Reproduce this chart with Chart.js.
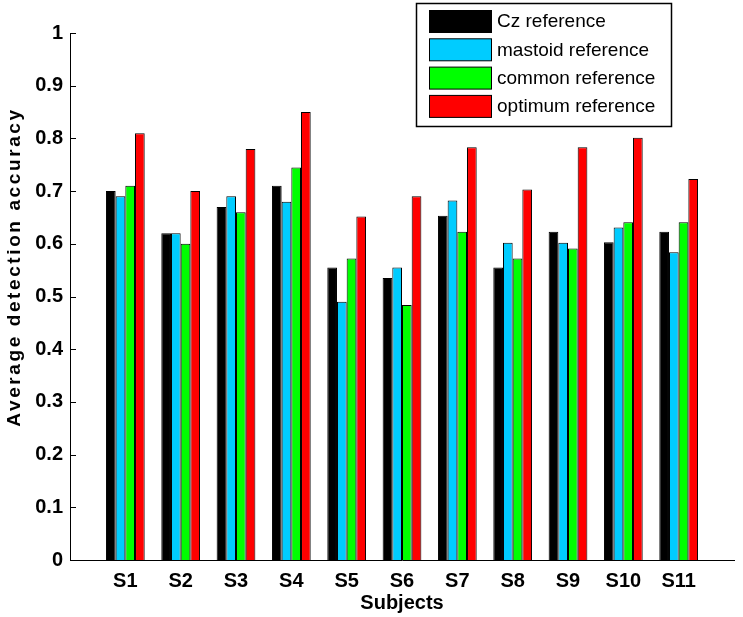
<!DOCTYPE html>
<html>
<head>
<meta charset="utf-8">
<script src="https://cdn.jsdelivr.net/npm/chart.js@4"></script>
<style>
  html, body { margin: 0; padding: 0; background: #fff; }
  #wrap { width: 743px; height: 617px; }
</style>
</head>
<body>
<div id="wrap"><canvas id="grafica"></canvas></div>
<script>
// datos
const subjects = ['S1', 'S2', 'S3', 'S4', 'S5', 'S6', 'S7', 'S8', 'S9', 'S10', 'S11'];
const czRef      = [0.70, 0.62, 0.67, 0.71, 0.555, 0.535, 0.653, 0.555, 0.623, 0.603, 0.623];
const mastoidRef = [0.69, 0.62, 0.69, 0.68, 0.49, 0.555, 0.682, 0.602, 0.602, 0.631, 0.584];
const commonRef  = [0.71, 0.60, 0.66, 0.745, 0.572, 0.484, 0.623, 0.572, 0.591, 0.641, 0.641];
const optimumRef = [0.81, 0.70, 0.78, 0.85, 0.652, 0.69, 0.783, 0.703, 0.783, 0.801, 0.723];
const yTicks = [0, 0.1, 0.2, 0.3, 0.4, 0.5, 0.6, 0.7, 0.8, 0.9, 1];
const yTitle = 'Average detection accuracy';

// MATLAB deja un hueco de una categoria a cada lado
const pad = arr => [null, ...arr, null];
const labels = ['', ...subjects, ''];

const series = [
    { label: 'Cz reference', data: czRef, color: '#000000' },
    { label: 'mastoid reference', data: mastoidRef, color: '#00ccff' },
    { label: 'common reference', data: commonRef, color: '#00ff00' },
    { label: 'optimum reference', data: optimumRef, color: '#ff0000' }
];

// leyenda dentro del area, con recuadro
const boxLegend = {
    id: 'boxLegend',
    afterDraw(chart) {
        const ctx = chart.ctx;
        ctx.save();
        ctx.fillStyle = '#fff';
        ctx.fillRect(416.5, 3.5, 255, 123);
        ctx.strokeStyle = '#000';
        ctx.lineWidth = 1.5;
        ctx.strokeRect(416.5, 3.5, 255, 123);
        ctx.font = '19px "Liberation Sans", Arial, sans-serif';
        ctx.textBaseline = 'middle';
        chart.data.datasets.forEach((ds, i) => {
            const top = 10 + i * 28.3;
            ctx.fillStyle = ds.backgroundColor;
            ctx.fillRect(429.5, top + 0.5, 62, 22);
            ctx.lineWidth = 1;
            ctx.strokeRect(429.5, top + 0.5, 62, 22);
            ctx.fillStyle = '#000';
            ctx.fillText(ds.label, 497, top + 12);
        });
        ctx.restore();
    }
};

// marcas de la escala y hacia dentro + titulo del eje y (mas espaciado, como el original)
const yAxisExtras = {
    id: 'yAxisExtras',
    afterDraw(chart) {
        const ctx = chart.ctx;
        const y = chart.scales.y;
        ctx.save();
        ctx.strokeStyle = '#000';
        ctx.lineWidth = 1;
        yTicks.forEach(v => {
            const py = Math.round(y.getPixelForValue(v)) + 0.5;
            ctx.beginPath();
            ctx.moveTo(y.right, py);
            ctx.lineTo(y.right + 6, py);
            ctx.stroke();
        });
        ctx.translate(15, 267);
        ctx.rotate(-Math.PI / 2);
        ctx.font = 'bold 19px "Liberation Sans", Arial, sans-serif';
        ctx.letterSpacing = '2.6px';
        ctx.textAlign = 'center';
        ctx.textBaseline = 'middle';
        ctx.fillStyle = '#000';
        ctx.fillText(yTitle, 0, 0);
        ctx.restore();
    }
};

const tickFont = { family: '"Liberation Sans", Arial, sans-serif', size: 20, weight: 'bold' };

new Chart(document.getElementById('grafica').getContext('2d'), {
    type: 'bar',
    data: {
        labels: labels,
        datasets: series.map(s => ({
            label: s.label,
            data: pad(s.data),
            backgroundColor: s.color,
            borderColor: '#000',
            borderWidth: 1,
            categoryPercentage: 0.7,
            barPercentage: 1
        }))
    },
    options: {
        responsive: true,
        maintainAspectRatio: false,
        animation: false,
        layout: { padding: { top: 33, right: 5, left: 0, bottom: 0 } },
        plugins: {
            legend: { display: false },
            tooltip: { enabled: false }
        },
        scales: {
            x: {
                offset: false,
                grid: { display: false, drawTicks: false },
                border: { color: '#000', width: 1 },
                ticks: { color: '#000', font: tickFont, padding: 9, autoSkip: false, maxRotation: 0 },
                title: {
                    display: true, text: 'Subjects', color: '#000',
                    font: tickFont, padding: { top: 0, bottom: 2 }
                },
                afterFit: s => { s.height = 57; }
            },
            y: {
                min: 0, max: 1,
                afterBuildTicks: s => { s.ticks = yTicks.map(v => ({ value: v })); },
                grid: { display: false, drawTicks: false },
                border: { color: '#000', width: 1 },
                ticks: {
                    color: '#000', font: tickFont, padding: 7,
                    callback: v => String(v)
                },
                title: { display: false },
                afterFit: s => { s.width = 70; }
            }
        }
    },
    plugins: [yAxisExtras, boxLegend]
});
</script>
</body>
</html>
